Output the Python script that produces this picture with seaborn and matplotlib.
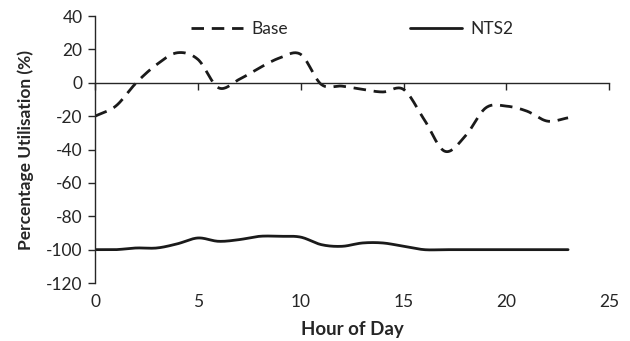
import numpy as np
import pandas as pd
import matplotlib
matplotlib.use("Agg")
import matplotlib.pyplot as plt
import seaborn as sns

hours = list(range(24))
base = [-20, -14, 0, 11, 18, 14, -3, 2, 9, 15, 17, -1, -2, -4, -5.5, -4,
        -22, -41, -32, -15, -14, -17, -23, -21]
nts2 = [-100, -100, -99, -99, -96.5, -93, -95, -94, -92, -92, -92.5, -97,
        -98, -96, -96, -98, -100, -100, -100, -100, -100, -100, -100, -100]
series_names = ["Base", "NTS2"]
x_ticks = [0, 5, 10, 15, 20, 25]
y_ticks = [-120, -100, -80, -60, -40, -20, 0, 20, 40]


def smooth(x, y, n=20):
    """Catmull-Rom smoothing like Excel's smoothed line."""
    x = np.asarray(x, float)
    y = np.asarray(y, float)
    px = np.concatenate([[2 * x[0] - x[1]], x, [2 * x[-1] - x[-2]]])
    py = np.concatenate([[2 * y[0] - y[1]], y, [2 * y[-1] - y[-2]]])
    xs, ys = [], []
    t = np.linspace(0, 1, n, endpoint=False)
    for i in range(1, len(px) - 2):
        for p, out in ((px, xs), (py, ys)):
            p0, p1, p2, p3 = p[i - 1], p[i], p[i + 1], p[i + 2]
            out.extend(0.5 * ((2 * p1) + (-p0 + p2) * t
                              + (2 * p0 - 5 * p1 + 4 * p2 - p3) * t ** 2
                              + (-p0 + 3 * p1 - 3 * p2 + p3) * t ** 3))
    xs.append(x[-1])
    ys.append(y[-1])
    return np.array(xs), np.array(ys)


frames = []
for name, vals in zip(series_names, [base, nts2]):
    sx, sy = smooth(hours, vals)
    frames.append(pd.DataFrame({"Hour": sx, "Value": sy, "Series": name}))
df = pd.concat(frames, ignore_index=True)

sns.set_theme(style="white")
plt.rcParams["font.family"] = ["Lato", "DejaVu Sans"]
plt.rcParams["axes.unicode_minus"] = False

TXT = "#262626"
fig = plt.figure(figsize=(6.3, 3.41), dpi=100)
ax = fig.add_axes([0.151, 0.170, 0.816, 0.783])

sns.lineplot(data=df, x="Hour", y="Value", hue="Series", style="Series",
             palette={"Base": "#1a1a1a", "NTS2": "#1a1a1a"},
             dashes={"Base": (4.5, 2.8), "NTS2": ""},
             linewidth=2.0, sort=False, estimator=None, ax=ax)

ax.set_xlim(0, 25)
ax.set_ylim(-120, 40)
ax.set_yticks(y_ticks)
ax.set_yticklabels([str(v) for v in y_ticks], fontsize=12.5, color=TXT)

# x-axis line crosses at y = 0 with tick marks there
ax.spines["bottom"].set_position(("data", 0))
ax.spines["top"].set_visible(False)
ax.spines["right"].set_visible(False)
for s in ("bottom", "left"):
    ax.spines[s].set_color(TXT)
    ax.spines[s].set_linewidth(1.0)
ax.set_xticks(x_ticks)
ax.tick_params(axis="x", direction="out", length=5, width=1, color=TXT,
               labelbottom=False, bottom=True)
ax.tick_params(axis="y", direction="out", length=5, width=1, color=TXT,
               left=True, pad=4)

# tick labels at the bottom of the plot
sec = ax.secondary_xaxis("bottom")
sec.set_xticks(x_ticks)
sec.set_xticklabels([str(v) for v in x_ticks], fontsize=12.5, color=TXT)
sec.tick_params(length=0, pad=8)
sec.spines["bottom"].set_visible(False)
sec.set_xlabel("Hour of Day", fontsize=13.5, fontweight="bold", color=TXT,
               labelpad=8)

ax.set_xlabel("")
ax.set_ylabel("Percentage Utilisation (%)", fontsize=12.5, fontweight="bold",
              color=TXT, labelpad=9)

leg = ax.legend(loc="upper center", bbox_to_anchor=(0.5, 1.04), ncol=2,
                frameon=False, fontsize=12.5, handlelength=3.0,
                columnspacing=7.0, handletextpad=0.5)
for t in leg.get_texts():
    t.set_color(TXT)

fig.savefig("out.png", dpi=100)
